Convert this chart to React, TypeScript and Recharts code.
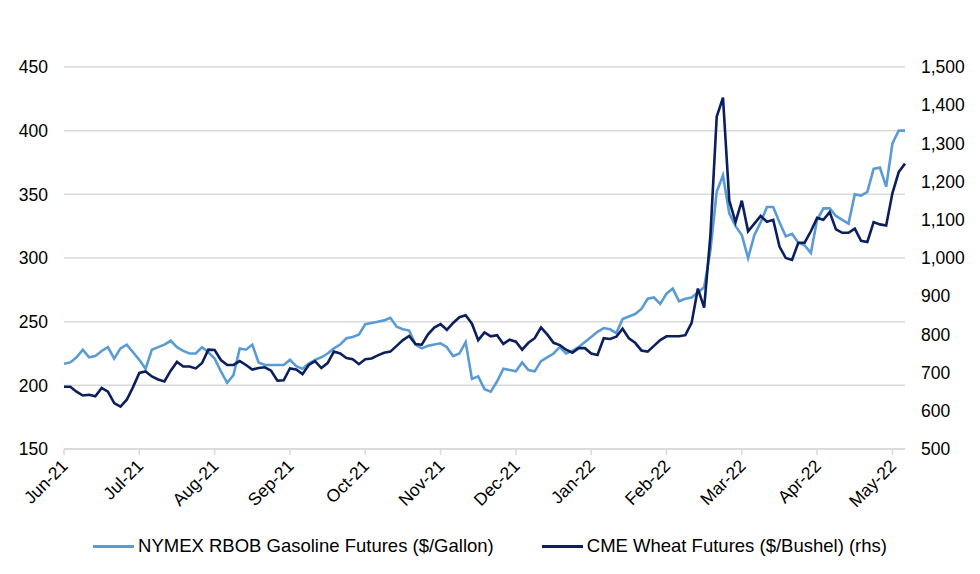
import React from 'react'
import { LineChart, Line, XAxis, YAxis, CartesianGrid, Legend } from 'recharts'

const MONTHS = ['Jun-21', 'Jul-21', 'Aug-21', 'Sep-21', 'Oct-21', 'Nov-21', 'Dec-21', 'Jan-22', 'Feb-22', 'Mar-22', 'Apr-22', 'May-22']
const MONTH_TICKS = [0, 12, 24, 36, 48, 60, 72, 84, 96, 108, 120, 132]

const LEFT_TICKS = [150, 200, 250, 300, 350, 400, 450]
const RIGHT_TICKS = [500, 600, 700, 800, 900, 1000, 1100, 1200, 1300, 1400, 1500]

// NYMEX RBOB gasoline, cents/gallon (lhs)
const GASOLINE = [
  217, 218, 222, 228, 222, 223, 227, 230, 221, 229,
  232, 226, 220, 213, 228, 230, 232, 235, 230, 227,
  225, 225, 230, 226, 221, 211, 202, 208, 229, 228,
  232, 218, 216, 216, 216, 216, 220, 215, 213, 217,
  220, 222, 225, 229, 232, 237, 238, 240, 248, 249,
  250, 251, 253, 246, 244, 243, 232, 229, 231, 232,
  233, 230, 223, 225, 234, 205, 207, 197, 195, 203,
  213, 212, 211, 218, 212, 211, 219, 222, 225, 230,
  225, 227, 230, 234, 238, 242, 245, 244, 241, 252,
  254, 256, 260, 268, 269, 264, 272, 276, 266, 268,
  269, 273, 277, 306, 352, 365, 335, 325, 318, 300,
  318, 328, 340, 340, 328, 317, 319, 312, 310, 304,
  330, 339, 339, 333, 330, 327, 350, 349, 352, 370,
  371, 356, 390, 400, 400,
]

// CME wheat, cents/bushel (rhs)
const WHEAT = [
  663, 663, 650, 640, 642, 638, 660, 650, 620, 611,
  629, 662, 699, 703, 690, 682, 677, 705, 728, 716,
  716, 711, 725, 760, 759, 733, 720, 720, 730, 720,
  708, 712, 714, 705, 679, 680, 711, 708, 696, 720,
  730, 712, 725, 755, 750, 738, 735, 722, 735, 737,
  745, 752, 755, 770, 785, 796, 775, 773, 800, 818,
  827, 812, 830, 845, 850, 828, 785, 805, 795, 798,
  775, 786, 781, 760, 778, 790, 818, 800, 778, 772,
  760, 752, 764, 764, 750, 746, 790, 788, 794, 815,
  790, 778, 758, 755, 770, 785, 795, 795, 795, 798,
  830, 920, 870, 1060, 1370, 1420, 1150, 1094, 1150, 1070,
  1090, 1110, 1095, 1100, 1030, 1000, 995, 1040, 1040, 1070,
  1105, 1100, 1120, 1075, 1066, 1066, 1077, 1045, 1042, 1094,
  1088, 1085, 1170, 1225, 1247,
]

const LIGHT = '#5b9bd5'
const DARK = '#0b1f5c'
const FONT = 'Liberation Sans, Arial, sans-serif'

const data = GASOLINE.map((g, i) => ({ i, gasoline: g, wheat: WHEAT[i] }))

const fmt = (v: number) => v.toLocaleString('en-US')

function MonthTick({ x, y, payload }: any) {
  const label = MONTHS[MONTH_TICKS.indexOf(payload.value)]
  return (
    <g transform={`translate(${x + 5},${y + 10})`}>
      <text x={0} y={0} textAnchor="end" transform="rotate(-45)" fill="#000" fontSize={17.5} fontFamily={FONT}>
        {label}
      </text>
    </g>
  )
}

function LegendBox() {
  const items = [
    { name: 'NYMEX RBOB Gasoline Futures ($/Gallon)', color: LIGHT },
    { name: 'CME Wheat Futures ($/Bushel) (rhs)', color: DARK },
  ]
  return (
    <div style={{ display: 'flex', justifyContent: 'center', gap: 48, paddingTop: 6, fontFamily: FONT, fontSize: 18.5, color: '#000' }}>
      {items.map((it) => (
        <div key={it.name} style={{ display: 'flex', alignItems: 'center' }}>
          <span style={{ display: 'inline-block', width: 41, height: 3, background: it.color, marginRight: 4 }} />
          <span>{it.name}</span>
        </div>
      ))}
    </div>
  )
}

export default function App() {
  return (
    <div style={{ position: 'absolute', left: 0, top: 0, width: 980, height: 574, background: '#fff' }}>
      <LineChart width={980} height={574} data={data} margin={{ top: 67, right: 0, bottom: 0, left: 0 }}>
        <CartesianGrid yAxisId="left" vertical={false} stroke="#d9d9d9" strokeWidth={1.5} />
        <XAxis
          dataKey="i"
          type="number"
          domain={[0, 134]}
          ticks={MONTH_TICKS}
          interval={0}
          height={80}
          stroke="#d9d9d9"
          strokeWidth={1.5}
          tickSize={6}
          tick={<MonthTick />}
        />
        <YAxis
          yAxisId="left"
          orientation="left"
          width={64}
          domain={[150, 450]}
          ticks={LEFT_TICKS}
          axisLine={false}
          tickLine={false}
          tickMargin={10}
          tick={{ fill: '#000', fontSize: 17.5, fontFamily: FONT }}
        />
        <YAxis
          yAxisId="right"
          orientation="right"
          width={75}
          domain={[500, 1500]}
          ticks={RIGHT_TICKS}
          axisLine={false}
          tickLine={false}
          tickMargin={10}
          tickFormatter={fmt}
          tick={{ fill: '#000', fontSize: 17.5, fontFamily: FONT }}
        />
        <Legend verticalAlign="bottom" height={45} content={<LegendBox />} />
        <Line yAxisId="left" dataKey="gasoline" stroke={LIGHT} strokeWidth={2.6} dot={false} isAnimationActive={false} />
        <Line yAxisId="right" dataKey="wheat" stroke={DARK} strokeWidth={2.6} dot={false} isAnimationActive={false} />
      </LineChart>
    </div>
  )
}
